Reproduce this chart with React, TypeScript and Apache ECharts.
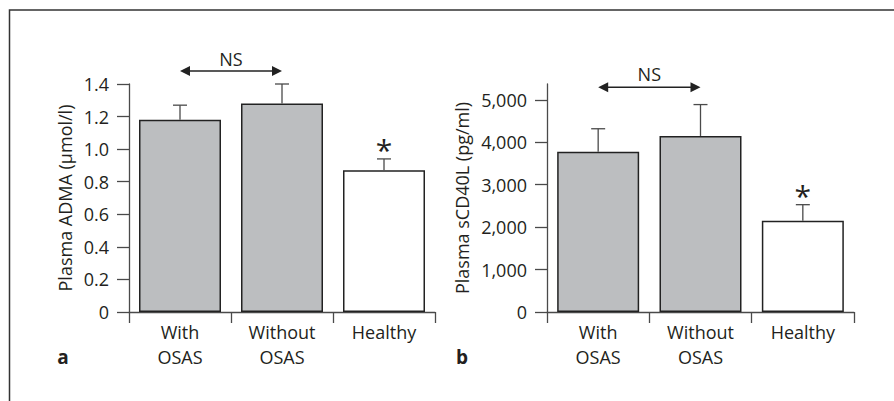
import React, { useEffect, useRef } from "react";
import * as echarts from "echarts";

const categories = ["With\nOSAS", "Without\nOSAS", "Healthy"];
const admaMean = [1.18, 1.28, 0.87];
const admaUpper = [1.27, 1.4, 0.94];
const cd40Mean = [3780, 4150, 2150];
const cd40Upper = [4320, 4890, 2530];
const admaTickValues = [0, 0.2, 0.4, 0.6, 0.8, 1.0, 1.2, 1.4];
const cd40TickValues = [0, 1000, 2000, 3000, 4000, 5000];
const admaTitle = "Plasma ADMA (µmol/l)";
const cd40Title = "Plasma sCD40L (pg/ml)";
const nsLevelA = [1.48, 1.555];
const nsLevelB = [5300, 5600];
const significantIndex = 2;

const FONT = "Open Sans";
const TXT = "#231f20";
const AXIS = "#4a4a4a";
const GRAY = "#bcbec0";

function errorSeries(xi: number, means: number[], uppers: number[]) {
  return {
    type: "custom",
    xAxisIndex: xi,
    yAxisIndex: xi,
    clip: false,
    z: 5,
    data: means.map((m, i) => [i, uppers[i], m]),
    renderItem: (params: any, api: any) => {
      const base = api.coord([api.value(0), api.value(2)]);
      const top = api.coord([api.value(0), api.value(1)]);
      const children: any[] = [
        {
          type: "line",
          shape: { x1: base[0], y1: base[1], x2: top[0], y2: top[1] },
          style: { stroke: AXIS, lineWidth: 1.3 },
        },
        {
          type: "line",
          shape: { x1: top[0] - 7, y1: top[1], x2: top[0] + 7, y2: top[1] },
          style: { stroke: AXIS, lineWidth: 1.3 },
        },
      ];
      if (params.dataIndex === significantIndex) {
        children.push({
          type: "text",
          x: top[0],
          y: top[1] + 6,
          style: {
            text: "*",
            fontFamily: FONT,
            fontSize: 30,
            fill: TXT,
            align: "center",
            verticalAlign: "bottom",
          },
        });
      }
      return { type: "group", children };
    },
  };
}

function nsSeries(xi: number, levels: number[]) {
  return {
    type: "custom",
    xAxisIndex: xi,
    yAxisIndex: xi,
    clip: false,
    z: 6,
    data: [[0, 1, levels[0], levels[1]]],
    renderItem: (_p: any, api: any) => {
      const a = api.coord([api.value(0), api.value(2)]);
      const b = api.coord([api.value(1), api.value(2)]);
      const t = api.coord([api.value(0), api.value(3)]);
      const y = a[1];
      const hl = 10;
      const hh = 5;
      return {
        type: "group",
        children: [
          {
            type: "line",
            shape: { x1: a[0] + hl - 1, y1: y, x2: b[0] - hl + 1, y2: y },
            style: { stroke: "#222", lineWidth: 1.5 },
          },
          {
            type: "polygon",
            shape: { points: [[a[0], y], [a[0] + hl, y - hh], [a[0] + hl, y + hh]] },
            style: { fill: "#222" },
          },
          {
            type: "polygon",
            shape: { points: [[b[0], y], [b[0] - hl, y - hh], [b[0] - hl, y + hh]] },
            style: { fill: "#222" },
          },
          {
            type: "text",
            x: (a[0] + b[0]) / 2,
            y: t[1],
            style: {
              text: "NS",
              fontFamily: FONT,
              fontSize: 18,
              fill: TXT,
              align: "center",
              verticalAlign: "middle",
            },
          },
        ],
      };
    },
  };
}

function barSeries(xi: number, means: number[]) {
  return {
    type: "bar",
    xAxisIndex: xi,
    yAxisIndex: xi,
    barWidth: 82,
    z: 3,
    data: means.map((m, i) => ({
      value: m,
      itemStyle: {
        color: i === significantIndex ? "#ffffff" : GRAY,
        borderColor: "#222",
        borderWidth: 1.5,
      },
    })),
  };
}

function xAxis(gi: number) {
  return {
    type: "category",
    gridIndex: gi,
    data: categories,
    axisLine: { show: true, lineStyle: { color: AXIS, width: 1.3 } },
    axisTick: { show: true, length: 11, lineStyle: { color: AXIS, width: 1.3 } },
    axisLabel: {
      margin: 7,
      fontFamily: FONT,
      fontSize: 18,
      lineHeight: 25,
      color: TXT,
    },
  };
}

export default function App() {
  const ref = useRef<HTMLDivElement>(null);
  useEffect(() => {
    if (!ref.current) return;
    const chart = echarts.init(ref.current, undefined, { renderer: "svg" });
    chart.setOption({
      animation: false,
      backgroundColor: "#ffffff",
      grid: [
        { left: 129, top: 84, width: 306, height: 228 },
        { left: 547, top: 84, width: 307, height: 228 },
      ],
      xAxis: [xAxis(0), xAxis(1)],
      yAxis: [
        {
          type: "value",
          gridIndex: 0,
          min: admaTickValues[0],
          max: admaTickValues[admaTickValues.length - 1],
          interval: 0.2,
          name: admaTitle,
          nameLocation: "middle",
          nameGap: 55,
          nameTextStyle: { fontFamily: FONT, fontSize: 18, color: TXT },
          splitLine: { show: false },
          axisLine: { show: true, lineStyle: { color: AXIS, width: 1.3 } },
          axisTick: { show: true, length: 12, lineStyle: { color: AXIS, width: 1.3 } },
          axisLabel: {
            margin: 20,
            fontFamily: FONT,
            fontSize: 18,
            color: TXT,
            formatter: (v: number) => (v === 0 ? "0" : v.toFixed(1)),
          },
        },
        {
          type: "value",
          gridIndex: 1,
          min: 0,
          max: 5375,
          interval: 1000,
          name: cd40Title,
          nameLocation: "middle",
          nameGap: 76,
          nameTextStyle: { fontFamily: FONT, fontSize: 18, color: TXT },
          splitLine: { show: false },
          axisLine: { show: true, lineStyle: { color: AXIS, width: 1.3 } },
          axisTick: {
            show: true,
            length: 12,
            customValues: cd40TickValues,
            lineStyle: { color: AXIS, width: 1.3 },
          },
          axisLabel: {
            margin: 20,
            fontFamily: FONT,
            fontSize: 18,
            color: TXT,
            customValues: cd40TickValues,
            formatter: (v: number) => v.toLocaleString("en-US"),
          },
        },
      ],
      series: [
        barSeries(0, admaMean),
        errorSeries(0, admaMean, admaUpper),
        nsSeries(0, nsLevelA),
        barSeries(1, cd40Mean),
        errorSeries(1, cd40Mean, cd40Upper),
        nsSeries(1, nsLevelB),
      ],
      graphic: [
        {
          type: "polyline",
          shape: { points: [[9.5, 402], [9.5, 10], [896, 10]] },
          style: { stroke: "#333", lineWidth: 1.5, fill: null },
        },
        {
          type: "text",
          x: 63,
          y: 357,
          style: {
            text: "a",
            fontFamily: FONT,
            fontWeight: "bold",
            fontSize: 19,
            fill: TXT,
            align: "center",
            verticalAlign: "middle",
          },
        },
        {
          type: "text",
          x: 462,
          y: 357,
          style: {
            text: "b",
            fontFamily: FONT,
            fontWeight: "bold",
            fontSize: 19,
            fill: TXT,
            align: "center",
            verticalAlign: "middle",
          },
        },
      ],
    });
    return () => chart.dispose();
  }, []);
  return (
    <div
      ref={ref}
      style={{ position: "fixed", left: 0, top: 0, width: 894, height: 401, background: "#fff" }}
    />
  );
}
